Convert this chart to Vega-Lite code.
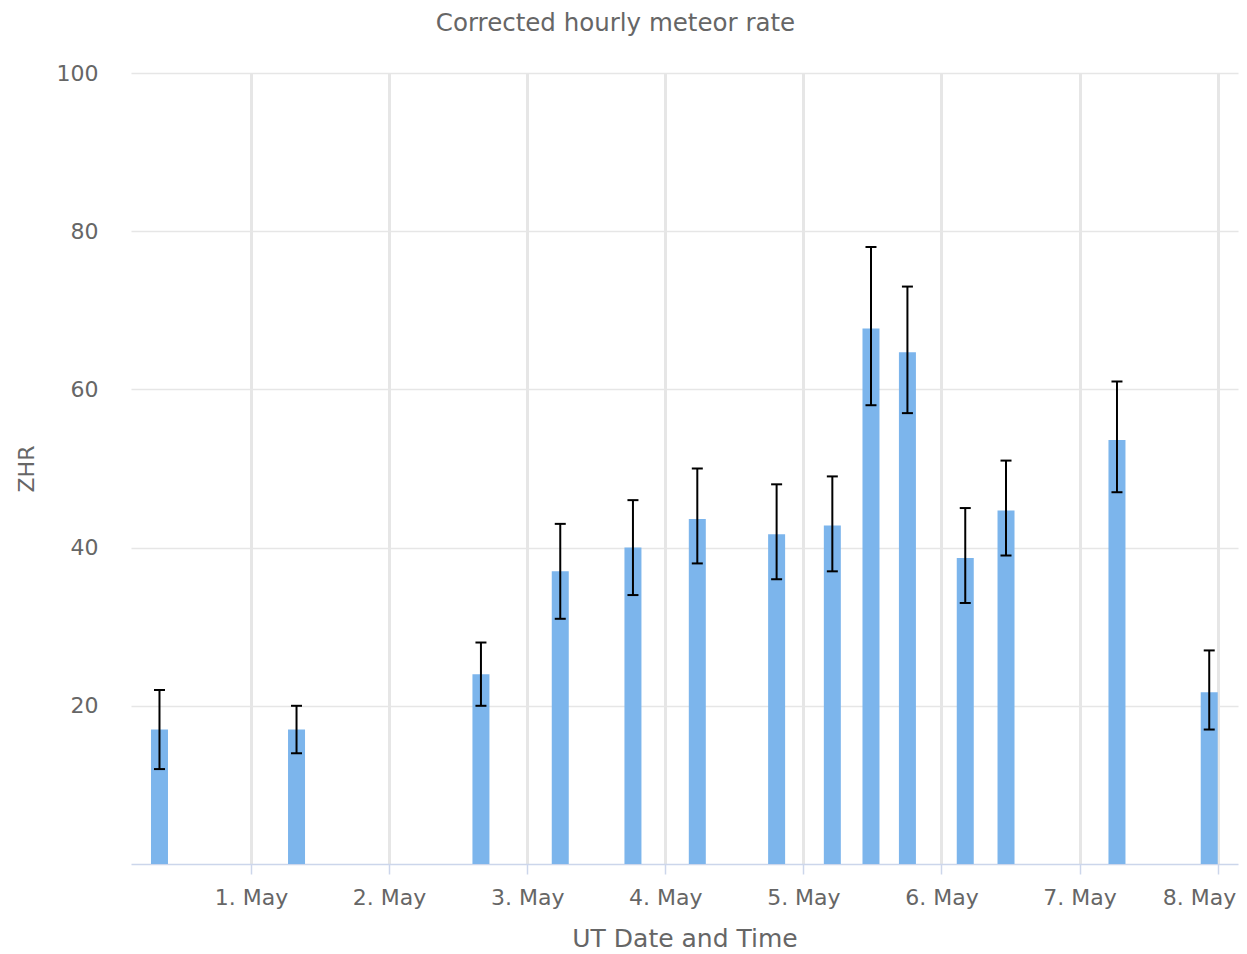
{
  "$schema": "https://vega.github.io/schema/vega-lite/v6.json",
  "width": 1107,
  "height": 791,
  "autosize": {"type": "none"},
  "padding": {"left": 131, "top": 73, "right": 9, "bottom": 90},
  "background": "#ffffff",
  "title": {
    "text": "Corrected hourly meteor rate",
    "anchor": "middle",
    "frame": "group",
    "dx": -69,
    "offset": 26,
    "font": "DejaVu Sans",
    "fontSize": 24.5,
    "fontWeight": "normal",
    "color": "#666666"
  },
  "config": {
    "view": {"stroke": null},
    "font": "DejaVu Sans"
  },
  "data": {
    "values": [
      {"t": "2024-04-30T08:06:00Z", "zhr": 17, "lo": 12, "hi": 22},
      {"t": "2024-05-01T07:55:00Z", "zhr": 17, "lo": 14, "hi": 20},
      {"t": "2024-05-02T15:58:00Z", "zhr": 24, "lo": 20, "hi": 28},
      {"t": "2024-05-03T05:45:00Z", "zhr": 37, "lo": 31, "hi": 43},
      {"t": "2024-05-03T18:23:00Z", "zhr": 40, "lo": 34, "hi": 46},
      {"t": "2024-05-04T05:34:00Z", "zhr": 43.6, "lo": 38, "hi": 50},
      {"t": "2024-05-04T19:21:00Z", "zhr": 41.7, "lo": 36, "hi": 48},
      {"t": "2024-05-05T05:02:00Z", "zhr": 42.8, "lo": 37, "hi": 49},
      {"t": "2024-05-05T11:45:00Z", "zhr": 67.7, "lo": 58, "hi": 78},
      {"t": "2024-05-05T18:05:00Z", "zhr": 64.7, "lo": 57, "hi": 73},
      {"t": "2024-05-06T04:08:00Z", "zhr": 38.7, "lo": 33, "hi": 45},
      {"t": "2024-05-06T11:13:00Z", "zhr": 44.7, "lo": 39, "hi": 51},
      {"t": "2024-05-07T06:30:00Z", "zhr": 53.6, "lo": 47, "hi": 61},
      {"t": "2024-05-07T22:32:00Z", "zhr": 21.7, "lo": 17, "hi": 27}
    ]
  },
  "encoding": {
    "x": {
      "field": "t",
      "type": "temporal",
      "scale": {
        "type": "utc",
        "padding": 0,
        "domain": [
          {"year": 2024, "month": 4, "date": 30, "hours": 3, "minutes": 9, "utc": true},
          {"year": 2024, "month": 5, "date": 8, "hours": 3, "minutes": 32, "utc": true}
        ]
      },
      "axis": {
        "title": "UT Date and Time",
        "format": "%-d. %b",
        "values": [
          {"year": 2024, "month": 5, "date": 1, "utc": true},
          {"year": 2024, "month": 5, "date": 2, "utc": true},
          {"year": 2024, "month": 5, "date": 3, "utc": true},
          {"year": 2024, "month": 5, "date": 4, "utc": true},
          {"year": 2024, "month": 5, "date": 5, "utc": true},
          {"year": 2024, "month": 5, "date": 6, "utc": true},
          {"year": 2024, "month": 5, "date": 7, "utc": true},
          {"year": 2024, "month": 5, "date": 8, "utc": true}
        ],
        "grid": true,
        "gridColor": "#e6e6e6",
        "gridWidth": 3,
        "domainColor": "#ccd6eb",
        "domainWidth": 1.5,
        "tickColor": "#ccd6eb",
        "tickSize": 10,
        "tickWidth": 1.5,
        "labelFontSize": 22,
        "labelColor": "#666666",
        "labelPadding": 13,
        "labelFlush": 32,
        "labelFlushOffset": 18,
        "titleFontSize": 25,
        "titleFontWeight": "normal",
        "titleColor": "#666666",
        "titlePadding": 18
      }
    }
  },
  "layer": [
    {
      "mark": {"type": "bar", "width": 17, "color": "#7cb5ec"},
      "encoding": {
        "y": {
          "field": "zhr",
          "type": "quantitative",
          "scale": {"domain": [0, 100], "nice": false},
          "axis": {
            "title": "ZHR",
            "values": [20, 40, 60, 80, 100],
            "grid": true,
            "gridColor": "#e6e6e6",
            "gridWidth": 1.5,
            "domain": false,
            "ticks": false,
            "labelFontSize": 22,
            "labelColor": "#666666",
            "labelPadding": 33,
            "titleFontSize": 22,
            "titleFontWeight": "normal",
            "titleColor": "#666666",
            "titlePadding": 18
          }
        }
      }
    },
    {
      "mark": {"type": "rule", "color": "#000000", "strokeWidth": 2},
      "encoding": {
        "y": {"field": "lo", "type": "quantitative"},
        "y2": {"field": "hi"}
      }
    },
    {
      "mark": {"type": "tick", "orient": "horizontal", "color": "#000000", "size": 11, "thickness": 2, "opacity": 1},
      "encoding": {
        "y": {"field": "lo", "type": "quantitative"}
      }
    },
    {
      "mark": {"type": "tick", "orient": "horizontal", "color": "#000000", "size": 11, "thickness": 2, "opacity": 1},
      "encoding": {
        "y": {"field": "hi", "type": "quantitative"}
      }
    }
  ]
}
